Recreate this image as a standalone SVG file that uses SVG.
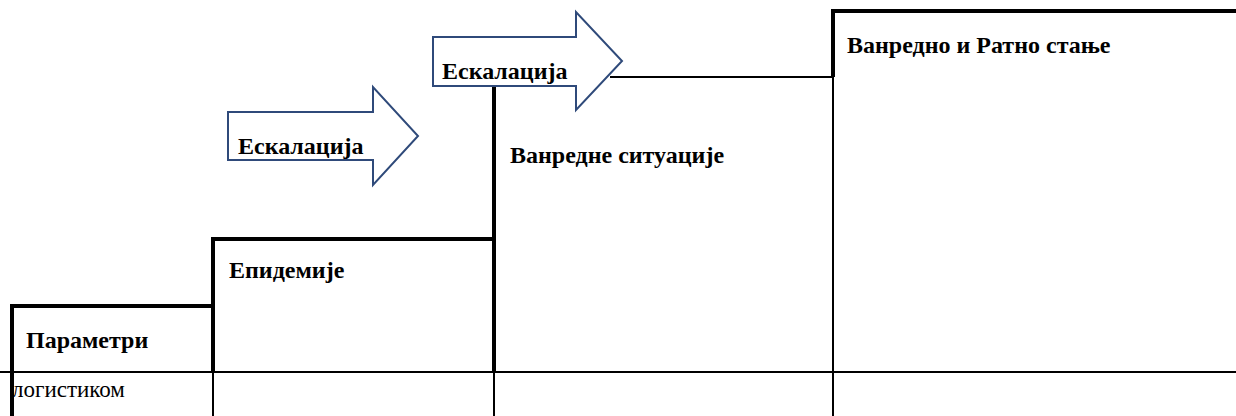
<svg xmlns="http://www.w3.org/2000/svg" width="1236" height="416" viewBox="0 0 1236 416">
<style>
.b{font-family:"Liberation Serif","Times New Roman",serif;font-weight:bold;font-size:24px;fill:#000}
.r{font-family:"Liberation Serif","Times New Roman",serif;font-size:23px;fill:#000}
.thick{stroke:#000;stroke-width:4;fill:none}
.thin{stroke:#000;stroke-width:2;fill:none}
.arrow{fill:#fff;stroke:#2F4A7A;stroke-width:2}
</style>
<rect width="1236" height="416" fill="#fff"/>
<g id="connectors">
<path class="thin" d="M0 372H1236"/>
<path class="thin" d="M12 372V416M213 372V416M494 372V416M833 372V416"/>
<path class="thin" d="M610 77H833"/>
<path class="thin" d="M833 77V372"/>
</g>
<g id="step-parametri">
<path class="thick" d="M12 416V306H213V372"/>
<text class="b" x="26" y="348">Параметри</text>
<text class="r" x="12" y="397">логистиком</text>
</g>
<g id="step-epidemije">
<path class="thick" d="M213 306V239H494V372"/>
<text class="b" x="229" y="278">Епидемије</text>
</g>
<g id="step-vanredne">
<path class="thick" d="M494 239V85"/>
<text class="b" x="510" y="163">Ванредне ситуације</text>
</g>
<g id="step-ratno">
<path class="thick" d="M833 77V11H1236"/>
<text class="b" x="847" y="53">Ванредно и Ратно стање</text>
</g>
<g id="arrow1">
<polygon class="arrow" points="228,112 373,112 373,87 418,136 373,185 373,160 228,160"/>
<text class="b" x="238" y="154">Ескалација</text>
</g>
<g id="arrow2">
<polygon class="arrow" points="433,37 576,37 576,12 622,61 576,110 576,86 433,86"/>
<text class="b" x="442" y="79">Ескалација</text>
</g>
</svg>
